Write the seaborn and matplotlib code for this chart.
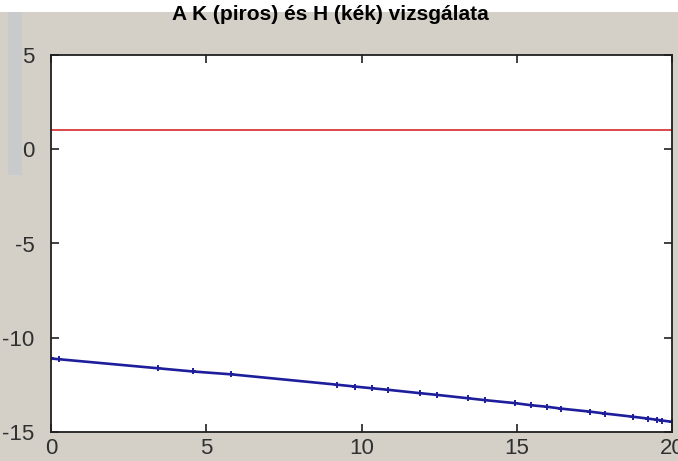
import matplotlib
matplotlib.use("Agg")
import matplotlib.pyplot as plt
import seaborn as sns
import pandas as pd
from matplotlib.patches import Rectangle

# ---- data ----
title_text = "A K (piros) és H (kék) vizsgálata"
k_x = [0, 20]
k_y = [1.0, 1.0]
h_x = [0.00, 0.26, 3.45, 4.57, 5.80, 9.21, 9.79, 10.34, 10.85, 11.88, 12.43,
       13.43, 13.98, 14.95, 15.46, 15.97, 16.43, 17.36, 17.84, 18.74, 19.23,
       19.52, 19.68, 20.00]
h_y = [-11.10, -11.14, -11.62, -11.79, -11.94, -12.49, -12.59, -12.68, -12.76,
       -12.94, -13.03, -13.21, -13.31, -13.47, -13.58, -13.66, -13.76, -13.92,
       -14.02, -14.19, -14.29, -14.35, -14.39, -14.46]
x_ticks = [0, 5, 10, 15, 20]
y_ticks = [-15, -10, -5, 0, 5]

W, H = 678, 461
fig = plt.figure(figsize=(W / 100, H / 100), dpi=100, facecolor="#d4d0c8")

# window artefacts: white strip on top, grey band at left
fig.patches.append(Rectangle((0, 1 - 12 / H), 1, 12 / H, transform=fig.transFigure,
                             facecolor="white", edgecolor="none", zorder=0))
fig.patches.append(Rectangle((8 / W, 1 - 175 / H), 14 / W, 163 / H, transform=fig.transFigure,
                             facecolor="#c8cacc", edgecolor="none", zorder=0))

left, right, top, bottom = 51, 672, 55, 432
ax = fig.add_axes([left / W, 1 - bottom / H, (right - left) / W, (bottom - top) / H])
ax.set_facecolor("white")

blue = "#1e1e9c"
df_k = pd.DataFrame({"x": k_x, "y": k_y})
df_h = pd.DataFrame({"x": h_x, "y": h_y})
sns.lineplot(data=df_k, x="x", y="y", ax=ax, color="#d83a3a", linewidth=1.3)
sns.lineplot(data=df_h, x="x", y="y", ax=ax, color=blue, linewidth=1.9,
             marker="+", markersize=5, markeredgewidth=1.4,
             markeredgecolor=blue, markerfacecolor=blue)

ax.set_xlim(0, 20)
ax.set_ylim(-15, 5)
ax.set_xticks(x_ticks)
ax.set_yticks(y_ticks)
ax.set_xticklabels([str(v) for v in x_ticks])
ax.set_yticklabels([str(v) for v in y_ticks])
ax.set_xlabel("")
ax.set_ylabel("")
for s in ax.spines.values():
    s.set_color("#202020")
    s.set_linewidth(1.3)
fam = ["Liberation Sans Narrow", "Liberation Sans", "DejaVu Sans"]
ax.tick_params(direction="in", length=6, width=1.2, top=True, right=True,
               labelsize=16, labelcolor="#303030", color="#202020")
ax.tick_params(axis="x", pad=4)
ax.tick_params(axis="y", pad=12)
for lab in ax.get_xticklabels() + ax.get_yticklabels():
    lab.set_family(fam)

fig.text(330 / W, 1 - 14 / H, title_text, ha="center", va="center",
         fontsize=15, fontweight="bold", family=["Liberation Sans Narrow", "Liberation Sans", "DejaVu Sans"],
         color="black")

fig.savefig("out.png", dpi=100, facecolor=fig.get_facecolor())
